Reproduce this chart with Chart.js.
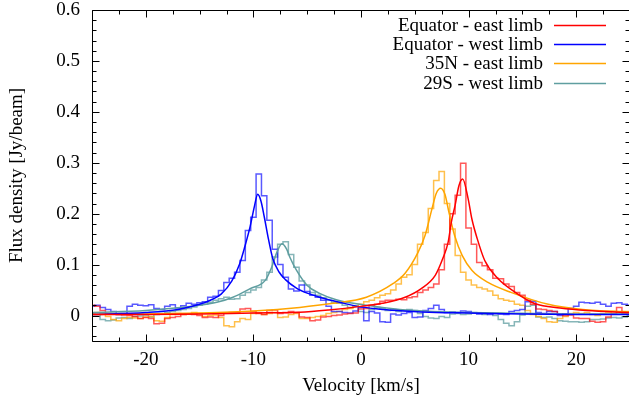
<!DOCTYPE html>
<html>
<head>
<meta charset="utf-8">
<script src="https://cdn.jsdelivr.net/npm/chart.js@4"></script>
<style>
  html, body { margin: 0; padding: 0; background: #fff; overflow: hidden; }
  #wrap { position: absolute; left: 0; top: 0; width: 630px; height: 405px; }
</style>
</head>
<body>
<div id="wrap"><canvas id="specChart" width="630" height="405"></canvas></div>
<script>
// Channel velocities (km/s) of the spectra
const velocity = [
  -25, -24.5, -24, -23.5, -23, -22.5, -22, -21.5, -21, -20.5,
  -20, -19.5, -19, -18.5, -18, -17.5, -17, -16.5, -16, -15.5,
  -15, -14.5, -14, -13.5, -13, -12.5, -12, -11.5, -11, -10.5,
  -10, -9.5, -9, -8.5, -8, -7.5, -7, -6.5, -6, -5.5,
  -5, -4.5, -4, -3.5, -3, -2.5, -2, -1.5, -1, -0.5,
  0, 0.5, 1, 1.5, 2, 2.5, 3, 3.5, 4, 4.5,
  5, 5.5, 6, 6.5, 7, 7.5, 8, 8.5, 9, 9.5,
  10, 10.5, 11, 11.5, 12, 12.5, 13, 13.5, 14, 14.5,
  15, 15.5, 16, 16.5, 17, 17.5, 18, 18.5, 19, 19.5,
  20, 20.5, 21, 21.5, 22, 22.5, 23, 23.5, 24, 24.5, 25
];

// Observed spectra (Jy/beam)
const eqEast = [
  0.020, 0.018, 0.010, 0.004, 0.003, 0.002, 0.001, 0.000, -0.002, -0.006,
  -0.004, -0.006, -0.016, -0.015, -0.006, -0.004, -0.002, 0.002, 0.003, 0.002,
  0.000, -0.004, -0.003, -0.004, 0.000, 0.005, 0.006, 0.006, 0.013, 0.014,
  0.008, 0.004, 0.002, 0.010, 0.011, 0.004, 0.006, 0.008, 0.006, -0.003,
  -0.004, -0.010, -0.009, -0.003, -0.002, 0.000, 0.001, 0.003, 0.004, 0.005,
  0.013, 0.014, 0.020, 0.022, 0.028, 0.030, 0.030, 0.032, 0.031, 0.035,
  0.037, 0.045, 0.050, 0.055, 0.062, 0.090, 0.140, 0.200, 0.236, 0.299,
  0.172, 0.140, 0.104, 0.098, 0.090, 0.073, 0.072, 0.062, 0.057, 0.045,
  0.040, 0.030, 0.022, 0.013, 0.012, 0.010, 0.008, 0.002, 0.000, 0.001,
  -0.005, -0.006, -0.006, -0.011, -0.013, -0.012, -0.003, 0.004, 0.016, 0.004, 0.003
];
const eqWest = [
  0.018, 0.020, 0.016, 0.012, 0.008, 0.002, 0.003, 0.018, 0.022, 0.020,
  0.019, 0.021, 0.014, 0.012, 0.018, 0.021, 0.015, 0.019, 0.024, 0.022,
  0.025, 0.027, 0.036, 0.038, 0.049, 0.065, 0.073, 0.085, 0.108, 0.167,
  0.193, 0.278, 0.235, 0.187, 0.130, 0.100, 0.075, 0.052, 0.048, 0.060,
  0.047, 0.040, 0.036, 0.030, 0.018, 0.008, 0.008, 0.006, 0.005, 0.009,
  0.016, -0.010, 0.008, 0.005, -0.012, -0.013, 0.003, 0.001, 0.004, 0.006,
  -0.004, -0.003, 0.010, 0.014, 0.020, 0.012, 0.006, 0.007, 0.006, 0.009,
  0.008, 0.005, 0.003, 0.004, 0.002, 0.004, 0.003, 0.002, 0.008, 0.010,
  0.012, 0.027, 0.028, 0.006, 0.004, 0.008, 0.008, 0.000, 0.003, 0.014,
  0.018, 0.026, 0.025, 0.024, 0.026, 0.022, 0.018, 0.024, 0.025, 0.022, 0.020
];
const n35East = [
  0.005, 0.006, 0.004, -0.002, -0.008, -0.010, -0.006, -0.004, -0.005, -0.006,
  -0.003, -0.002, -0.010, -0.011, -0.004, 0.002, 0.004, 0.002, 0.003, 0.006,
  0.004, -0.002, 0.000, 0.001, -0.004, -0.020, -0.022, -0.012, -0.006, -0.008,
  0.004, 0.005, 0.002, 0.004, 0.006, -0.004, -0.003, 0.002, 0.004, -0.006,
  -0.006, -0.004, -0.002, 0.000, 0.004, 0.006, 0.008, 0.012, 0.014, 0.018,
  0.022, 0.027, 0.030, 0.035, 0.040, 0.043, 0.050, 0.062, 0.075, 0.080,
  0.100, 0.140, 0.163, 0.210, 0.265, 0.283, 0.220, 0.170, 0.118, 0.085,
  0.070, 0.060, 0.055, 0.052, 0.048, 0.040, 0.033, 0.030, 0.028, 0.022,
  0.020, 0.010, 0.002, -0.002, -0.006, -0.012, -0.013, -0.006, -0.002, 0.004,
  0.006, 0.004, 0.006, 0.002, 0.000, 0.004, 0.006, 0.008, 0.006, 0.008, 0.008
];
const s29West = [
  0.003, 0.002, -0.008, -0.010, -0.009, -0.005, -0.004, -0.006, -0.002, -0.001,
  0.001, -0.003, 0.002, 0.004, 0.006, 0.008, 0.010, 0.012, 0.014, 0.017,
  0.020, 0.022, 0.026, 0.030, 0.033, 0.036, 0.032, 0.033, 0.040, 0.045,
  0.050, 0.055, 0.070, 0.085, 0.115, 0.140, 0.145, 0.120, 0.095, 0.068,
  0.060, 0.045, 0.040, 0.035, 0.030, 0.026, 0.024, 0.020, 0.016, 0.018,
  0.008, 0.006, 0.012, 0.016, 0.014, 0.010, 0.012, 0.008, 0.010, 0.012,
  0.010, 0.004, -0.002, -0.005, -0.006, -0.002, -0.004, 0.003, 0.004, 0.002,
  0.003, 0.006, 0.004, 0.002, 0.004, 0.000, -0.008, -0.015, -0.020, -0.012,
  0.001, 0.018, 0.020, -0.003, -0.004, -0.003, -0.006, -0.010, -0.011, -0.012,
  -0.012, -0.013, -0.012, -0.008, -0.008, -0.007, -0.005, -0.004, -0.005, -0.003, 0.000
];

// Fitted profiles
const eqEastFitX = [-25, -20, -15, -10, -5.7, -3, 0, 2, 4.1, 5.6, 6.9, 7.6, 8.1, 8.4, 8.75, 9.1, 9.45, 9.95, 10.3, 10.8, 11.5, 12.7, 14.3, 16.2, 18.5, 21, 25];
const eqEastFitY = [0.002, 0.002, 0.003, 0.005, 0.0065, 0.011, 0.018, 0.024, 0.036, 0.053, 0.079, 0.112, 0.144, 0.184, 0.217, 0.255, 0.268, 0.230, 0.190, 0.151, 0.108, 0.073, 0.046, 0.023, 0.015, 0.010, 0.006];
const eqWestFitX = [-25, -20, -17, -15, -14, -13, -12, -11.3, -10.8, -10.3, -9.9, -9.6, -9.3, -9.0, -8.6, -8.2, -7.6, -7, -6, -5, -4, -3, -2, 0, 2, 4, 7, 10, 15, 20, 25];
const eqWestFitY = [0.002, 0.006, 0.012, 0.022, 0.030, 0.042, 0.068, 0.100, 0.135, 0.175, 0.215, 0.238, 0.225, 0.195, 0.150, 0.112, 0.085, 0.070, 0.054, 0.044, 0.037, 0.031, 0.026, 0.017, 0.012, 0.009, 0.006, 0.005, 0.003, 0.002, 0.002];
const n35EastFitX = [-25, -20, -15, -10, -5.7, -2.6, 0.5, 3, 4.1, 5.3, 5.95, 6.6, 7.0, 7.4, 7.8, 8.2, 8.7, 9.4, 10.3, 11.8, 14, 17.4, 20.6, 25];
const n35EastFitY = [0.002, 0.003, 0.005, 0.009, 0.016, 0.024, 0.036, 0.063, 0.083, 0.124, 0.157, 0.210, 0.240, 0.250, 0.238, 0.200, 0.157, 0.118, 0.089, 0.065, 0.045, 0.022, 0.012, 0.007];
const s29WestFitX = [-25, -20, -15, -13.4, -11.9, -10.3, -8.9, -8.3, -7.8, -7.35, -6.9, -6.6, -6, -5, -3.8, -2.3, 0.5, 3.6, 8, 13, 19, 25];
const s29WestFitY = [0.006, 0.010, 0.020, 0.026, 0.036, 0.053, 0.069, 0.095, 0.125, 0.141, 0.130, 0.114, 0.089, 0.059, 0.043, 0.031, 0.020, 0.012, 0.007, 0.005, 0.003, 0.003];

const seriesLabels = ['Equator - east limb', 'Equator - west limb', '35N - east limb', '29S - west limb'];
const xTicks = [-20, -10, 0, 10, 20];
const yTicks = [0, 0.1, 0.2, 0.3, 0.4, 0.5, 0.6];

const lineColors = ['#ff0000', '#0000ff', '#ffa500', '#5f9ea0'];
const histColors = ['rgba(255, 0, 0, 0.65)', 'rgba(0, 0, 255, 0.65)', 'rgba(255, 165, 0, 0.7)', 'rgba(95, 158, 160, 0.75)'];

const serif = { family: '"Liberation Serif", "DejaVu Serif", serif', size: 19 };

function pairs(xs, ys) {
    return xs.map((v, i) => ({ x: v, y: ys[i] }));
}

const observed = [eqEast, eqWest, n35East, s29West];
const fits = [
    [eqEastFitX, eqEastFitY],
    [eqWestFitX, eqWestFitY],
    [n35EastFitX, n35EastFitY],
    [s29WestFitX, s29WestFitY]
];

const datasets = [];
observed.forEach((vals, i) => {
    datasets.push({
        label: seriesLabels[i] + ' (data)',
        data: pairs(velocity, vals),
        stepped: 'middle',
        borderColor: histColors[i],
        borderWidth: 1.5,
        pointRadius: 0,
        fill: false,
        order: 2
    });
});
fits.forEach((f, i) => {
    datasets.push({
        label: seriesLabels[i],
        data: pairs(f[0], f[1]),
        cubicInterpolationMode: 'monotone',
        borderColor: lineColors[i],
        borderWidth: 1.5,
        pointRadius: 0,
        fill: false,
        order: 1
    });
});

// Frame and inward ticks on all four sides (gnuplot style)
const frameTicks = {
    id: 'frameTicks',
    afterDatasetsDraw(chart) {
        const ctx = chart.ctx;
        const a = chart.chartArea;
        const xs = chart.scales.x;
        const ys = chart.scales.y;
        const L = Math.round(a.left) + 0.5, R = Math.round(a.right) - 0.5;
        const T = Math.round(a.top) + 0.5, B = Math.round(a.bottom) + 0.5;
        ctx.save();
        ctx.strokeStyle = '#000000';
        ctx.lineWidth = 1;
        ctx.beginPath();
        ctx.moveTo(L, T); ctx.lineTo(R, T); ctx.lineTo(R, B); ctx.lineTo(L, B); ctx.closePath();
        for (let k = -10; k <= 10; k++) {
            const px = Math.round(xs.getPixelForValue(k * 2.5)) + 0.5;
            const len = k % 4 === 0 ? 7 : 4;
            ctx.moveTo(px, B); ctx.lineTo(px, B - len);
            ctx.moveTo(px, T); ctx.lineTo(px, T + len);
        }
        for (let k = -2; k <= 30; k++) {
            const py = Math.round(ys.getPixelForValue(k * 0.02)) + 0.5;
            const len = k % 5 === 0 ? 7 : 4;
            ctx.moveTo(L, py); ctx.lineTo(L + len, py);
            ctx.moveTo(R, py); ctx.lineTo(R - len, py);
        }
        ctx.stroke();
        ctx.restore();
    }
};

// Key in the top right corner: right-aligned text, line sample after it
const sideKey = {
    id: 'sideKey',
    afterDraw(chart) {
        const ctx = chart.ctx;
        ctx.save();
        ctx.font = serif.size + 'px ' + serif.family;
        ctx.textAlign = 'right';
        ctx.textBaseline = 'middle';
        seriesLabels.forEach((lab, i) => {
            const ty = Math.round(25 + i * 19.2);
            ctx.fillStyle = '#000';
            ctx.fillText(lab, 543, ty + 1);
            ctx.strokeStyle = lineColors[i];
            ctx.lineWidth = 1.5;
            ctx.beginPath();
            ctx.moveTo(554, ty + 0.5);
            ctx.lineTo(606, ty + 0.5);
            ctx.stroke();
        });
        ctx.restore();
    }
};

const ctxSpec = document.getElementById('specChart').getContext('2d');
const specChart = new Chart(ctxSpec, {
    type: 'line',
    data: { datasets: datasets },
    options: {
        responsive: false,
        animation: false,
        events: [],
        layout: { padding: { top: 10, right: 0, left: 0, bottom: 0 } },
        plugins: {
            legend: { display: false },
            tooltip: { enabled: false }
        },
        scales: {
            x: {
                type: 'linear',
                min: -25,
                max: 25,
                grid: { display: false, drawTicks: false },
                border: { display: false },
                afterBuildTicks: s => { s.ticks = xTicks.map(v => ({ value: v })); },
                afterFit: s => { s.height = 64; s.paddingLeft = 0; s.paddingRight = 0; },
                ticks: { padding: 8, color: '#000', font: serif, maxRotation: 0, callback: v => String(v) },
                title: { display: true, text: 'Velocity [km/s]', color: '#000', font: serif, padding: { top: 0, bottom: 8 } }
            },
            y: {
                type: 'linear',
                min: -0.05,
                max: 0.6,
                grid: { display: false, drawTicks: false },
                border: { display: false },
                afterBuildTicks: s => { s.ticks = yTicks.map(v => ({ value: v })); },
                afterFit: s => { s.width = 92; s.paddingTop = 0; s.paddingBottom = 0; },
                ticks: { padding: 12, color: '#000', font: serif, callback: v => (v === 0 ? '0' : v.toFixed(1)) },
                title: { display: true, text: 'Flux density [Jy/beam]', color: '#000', font: serif, padding: { top: 6, bottom: 0 } }
            }
        }
    },
    plugins: [frameTicks, sideKey]
});
</script>
</body>
</html>
